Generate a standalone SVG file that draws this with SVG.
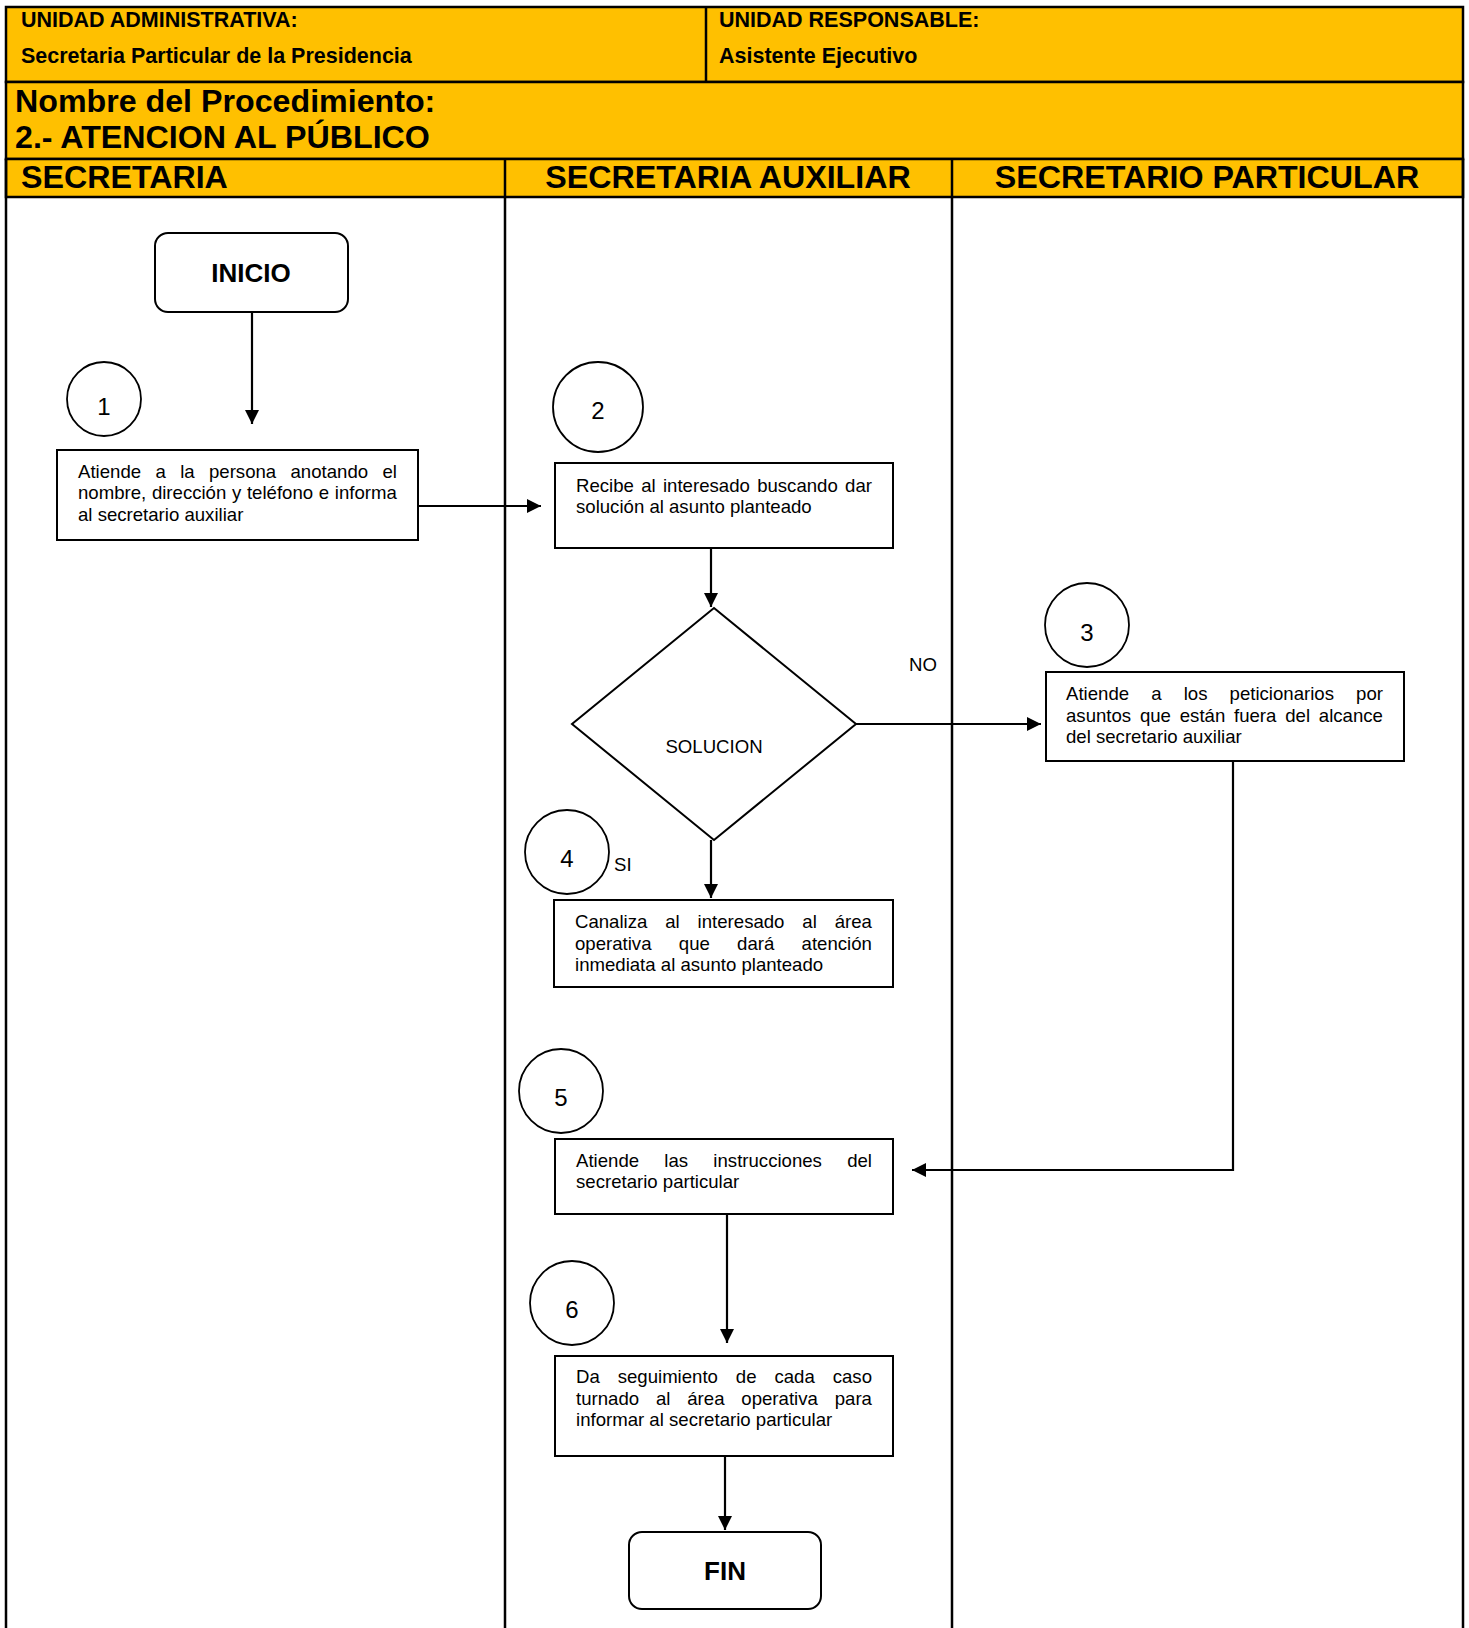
<svg xmlns="http://www.w3.org/2000/svg" width="1469" height="1628" viewBox="0 0 1469 1628">
<defs>
<marker id="ah" markerUnits="userSpaceOnUse" markerWidth="16" markerHeight="16" refX="14" refY="7" orient="auto">
<path d="M0,0 L14,7 L0,14 z" fill="#000"/>
</marker>
<style>
.hdr{fill:#FFC000;stroke:#000;stroke-width:2.5}
.ln{stroke:#000;stroke-width:2.5;fill:none}
.h1{font-family:"Liberation Sans",Arial,sans-serif;font-weight:bold;font-size:21.5px;fill:#000}
.h2{font-family:"Liberation Sans",Arial,sans-serif;font-weight:bold;font-size:32.2px;fill:#000}
.box{fill:#fff;stroke:#000;stroke-width:2}
.t{font-family:"Liberation Sans",Arial,sans-serif;font-size:18.6px;fill:#000}
.num{font-family:"Liberation Sans",Arial,sans-serif;font-size:24px;fill:#000;text-anchor:middle}
.term{font-family:"Liberation Sans",Arial,sans-serif;font-weight:bold;font-size:26px;fill:#000;text-anchor:middle}
.c{fill:#fff;stroke:#000;stroke-width:1.8}
.con{stroke:#000;stroke-width:2.2;fill:none}
</style>
</defs>
<rect width="1469" height="1628" fill="#fff"/>
<g id="header">
<rect class="hdr" x="6" y="7" width="1457" height="75"/>
<line class="ln" x1="706" y1="7" x2="706" y2="82"/>
<rect class="hdr" x="6" y="82" width="1457" height="77"/>
<rect class="hdr" x="6" y="159" width="1457" height="38"/>
<text class="h1" x="21" y="27">UNIDAD ADMINISTRATIVA:</text>
<text class="h1" x="21" y="63">Secretaria Particular de la Presidencia</text>
<text class="h1" x="719" y="27">UNIDAD RESPONSABLE:</text>
<text class="h1" x="719" y="63">Asistente Ejecutivo</text>
<text class="h2" x="15" y="112">Nombre del Procedimiento:</text>
<text class="h2" x="15" y="148">2.- ATENCION AL PÚBLICO</text>
</g>
<g id="lanes">
<line class="ln" x1="6" y1="159" x2="6" y2="1640"/>
<line class="ln" x1="505" y1="159" x2="505" y2="1640"/>
<line class="ln" x1="952" y1="159" x2="952" y2="1640"/>
<line class="ln" x1="1463" y1="159" x2="1463" y2="1640"/>
<text class="h2" x="21" y="188">SECRETARIA</text>
<text class="h2" x="728" y="188" text-anchor="middle">SECRETARIA AUXILIAR</text>
<text class="h2" x="1207" y="188" text-anchor="middle">SECRETARIO PARTICULAR</text>
</g>
<g id="connectors">
<line class="con" x1="252" y1="312" x2="252" y2="424" marker-end="url(#ah)"/>
<line class="con" x1="418" y1="506" x2="541" y2="506" marker-end="url(#ah)"/>
<line class="con" x1="711" y1="548" x2="711" y2="607" marker-end="url(#ah)"/>
<line class="con" x1="856" y1="724" x2="1041" y2="724" marker-end="url(#ah)"/>
<line class="con" x1="711" y1="840" x2="711" y2="898" marker-end="url(#ah)"/>
<polyline class="con" points="1233,761 1233,1170 912,1170" marker-end="url(#ah)"/>
<line class="con" x1="727" y1="1214" x2="727" y2="1343" marker-end="url(#ah)"/>
<line class="con" x1="725" y1="1456" x2="725" y2="1530" marker-end="url(#ah)"/>
<text class="t" x="923" y="671" text-anchor="middle" font-size="18">NO</text>
<text class="t" x="614" y="871" font-size="17">SI</text>
</g>
<g id="inicio">
<rect class="box" x="155" y="233" width="193" height="79" rx="13"/>
<text class="term" x="251" y="282">INICIO</text>
</g>
<g id="n1">
<circle class="c" cx="104" cy="399" r="37"/>
<text class="num" x="104" y="415" font-size="18">1</text>
<rect class="box" x="57" y="450" width="361" height="90"/>
<text class="t" x="78" y="478" word-spacing="9.2">Atiende a la persona anotando el</text>
<text class="t" x="78" y="499" word-spacing="0.5">nombre, dirección y teléfono e informa</text>
<text class="t" x="78" y="521">al secretario auxiliar</text>
</g>
<g id="n2">
<circle class="c" cx="598" cy="407" r="45"/>
<text class="num" x="598" y="419">2</text>
<rect class="box" x="555" y="463" width="338" height="85"/>
<text class="t" x="576" y="492" word-spacing="2.15">Recibe al interesado buscando dar</text>
<text class="t" x="576" y="513">solución al asunto planteado</text>
</g>
<g id="decision">
<polygon class="box" points="714,608 856,724 714,840 572,724"/>
<text class="t" x="714" y="753" text-anchor="middle">SOLUCION</text>
</g>
<g id="n3">
<circle class="c" cx="1087" cy="625" r="42"/>
<text class="num" x="1087" y="641">3</text>
<rect class="box" x="1046" y="672" width="358" height="89"/>
<text class="t" x="1066" y="700" word-spacing="16.96">Atiende a los peticionarios por</text>
<text class="t" x="1066" y="722" word-spacing="3.63">asuntos que están fuera del alcance</text>
<text class="t" x="1066" y="743">del secretario auxiliar</text>
</g>
<g id="n4">
<circle class="c" cx="567" cy="852" r="42"/>
<text class="num" x="567" y="867">4</text>
<rect class="box" x="554" y="900" width="339" height="87"/>
<text class="t" x="575" y="928" word-spacing="12.73">Canaliza al interesado al área</text>
<text class="t" x="575" y="950" word-spacing="22.13">operativa que dará atención</text>
<text class="t" x="575" y="971">inmediata al asunto planteado</text>
</g>
<g id="n5">
<circle class="c" cx="561" cy="1091" r="42"/>
<text class="num" x="561" y="1106">5</text>
<rect class="box" x="555" y="1139" width="338" height="75"/>
<text class="t" x="576" y="1167" word-spacing="20.1">Atiende las instrucciones del</text>
<text class="t" x="576" y="1188">secretario particular</text>
</g>
<g id="n6">
<circle class="c" cx="572" cy="1303" r="42"/>
<text class="num" x="572" y="1318">6</text>
<rect class="box" x="555" y="1356" width="338" height="100"/>
<text class="t" x="576" y="1383" word-spacing="12.75">Da seguimiento de cada caso</text>
<text class="t" x="576" y="1405" word-spacing="11.7">turnado al área operativa para</text>
<text class="t" x="576" y="1426">informar al secretario particular</text>
</g>
<g id="fin">
<rect class="box" x="629" y="1532" width="192" height="77" rx="13"/>
<text class="term" x="725" y="1580">FIN</text>
</g>
</svg>
